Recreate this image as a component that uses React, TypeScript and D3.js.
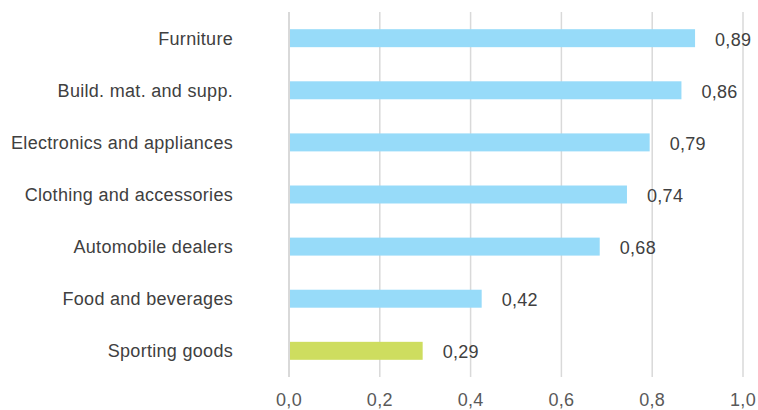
import React from "react";
import * as d3 from "d3";

const categories = [
  "Furniture",
  "Build. mat. and supp.",
  "Electronics and appliances",
  "Clothing and accessories",
  "Automobile dealers",
  "Food and beverages",
  "Sporting goods",
];
const values = [0.89, 0.86, 0.79, 0.74, 0.68, 0.42, 0.29];
const highlighted = ["Sporting goods"];
const ticks = [0, 0.2, 0.4, 0.6, 0.8, 1.0];

export default function App() {
  const width = 758;
  const height = 410;
  const x = d3.scaleLinear().domain([0, 1]).range([289, 743]);
  const y = d3.scaleBand().domain(categories).range([12, 377]).paddingInner(0.655).paddingOuter(0.33);
  const fmt = (v: number) => v.toFixed(1).replace(".", ",");
  const fmt2 = (v: number) => v.toFixed(2).replace(".", ",");
  const font = "Liberation Sans, Arial, sans-serif";
  return (
    <svg width={width} height={height} style={{ position: "absolute", left: 0, top: 0, fontFamily: font }}>
      {ticks.map((t) => (
        <line key={"g" + t} x1={x(t)} x2={x(t)} y1={12} y2={377} stroke="#D9D9D9" strokeWidth={t === 0 ? 2 : 1.5} />
      ))}
      {categories.map((c, i) => (
        <g key={c}>
          <rect
            x={x(0) + 1}
            y={y(c)!}
            width={x(values[i]) - x(0) + 1}
            height={y.bandwidth()}
            fill={highlighted.includes(c) ? "#CEDD5F" : "#97DBF9"}
          />
          <text x={233} y={y(c)! + y.bandwidth() / 2 + 0.5} textAnchor="end" dominantBaseline="central" fontSize={18} letterSpacing={0.3} fill="#404040">
            {c}
          </text>
          <text x={x(values[i]) + 22} y={y(c)! + y.bandwidth() / 2 + 1.5} dominantBaseline="central" fontSize={18} letterSpacing={0.3} fill="#404040">
            {fmt2(values[i])}
          </text>
        </g>
      ))}
      {ticks.map((t) => (
        <text key={"t" + t} x={x(t)} y={400} textAnchor="middle" dominantBaseline="central" fontSize={18} letterSpacing={0.3} fill="#595959">
          {fmt(t)}
        </text>
      ))}
    </svg>
  );
}
